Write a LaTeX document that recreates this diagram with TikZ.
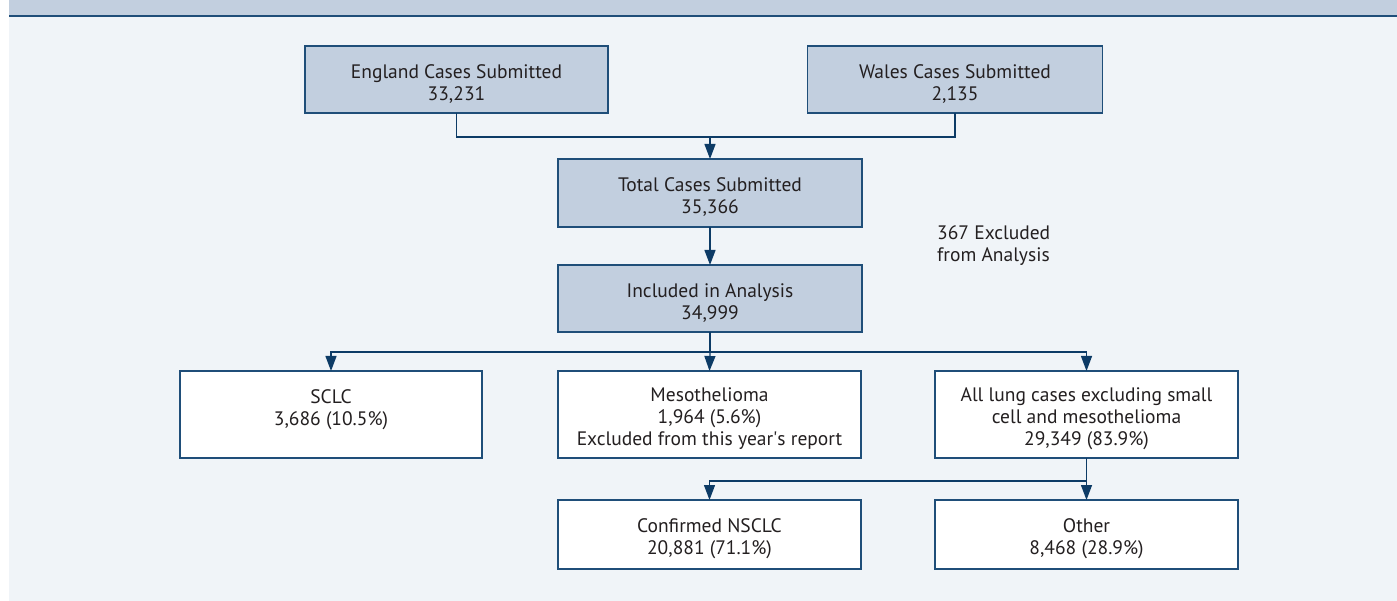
\documentclass[tikz,border=0pt]{standalone}
\usepackage{fontspec}
\setmainfont{PT Sans}
\usetikzlibrary{arrows.meta}
\definecolor{hdr}{HTML}{C2CFDF}
\definecolor{panel}{HTML}{F0F4F8}
\definecolor{edge}{HTML}{1F4E79}
\definecolor{arr}{HTML}{0D3B66}
\definecolor{txt}{HTML}{231F20}
\newcommand{\topstrut}{\rule{0pt}{22.5pt}}
\begin{document}
\begin{tikzpicture}[x=1pt,y=-1pt,
  box/.style={draw=edge, line width=1.3pt, minimum width=303pt, minimum height=67pt,
    inner sep=0pt, outer sep=0pt, align=center, text=txt,
    font=\fontsize{19.5}{22}\selectfont},
  bluebox/.style={box, fill=hdr},
  whitebox/.style={box, fill=white, minimum height=87pt},
  conn/.style={draw=arr, line width=1.3pt},
  arrow/.style={conn, -{Triangle[width=11pt,length=15pt]}}]
\useasboundingbox (0,0) rectangle (1397,601);
\fill[white] (0,0) rectangle (1397,601);
\fill[hdr] (9,0) rectangle (1397,16);
\fill[panel] (9,16) rectangle (1397,601);
\draw[edge, line width=1.5pt] (9,16) -- (1397,16);

\node[bluebox, minimum width=303pt] (eng) at (456.5,79.5) {\topstrut England Cases Submitted\\33,231};
\node[bluebox, minimum width=295pt] (wal) at (955,79.5) {\topstrut Wales Cases Submitted\\2,135};
\node[bluebox, minimum width=304pt, minimum height=68pt] (tot) at (710,193) {\topstrut Total Cases Submitted\\35,366};
\node[bluebox, minimum width=304pt] (inc) at (710,298.5) {\topstrut Included in Analysis\\34,999};
\node[anchor=west, align=left, inner sep=0pt, text=txt, font=\fontsize{19.5}{21.5}\selectfont] (excl) at (937,245.5) {367 Excluded\\from Analysis};

\node[whitebox, minimum width=302pt] (sclc) at (331,414.5) {\topstrut SCLC\\3,686 (10.5\%)\\\mbox{}};
\node[whitebox] (meso) at (709.5,414.5) {\topstrut Mesothelioma\\1,964 (5.6\%)\\Excluded from this year\textquotesingle s report};
\node[whitebox] (lung) at (1086.5,414.5) {\topstrut All lung cases excluding small\\cell and mesothelioma\\29,349 (83.9\%)};
\node[box, fill=white, minimum height=69pt] (nsclc) at (709.5,534.5) {\topstrut Confirmed NSCLC\\20,881 (71.1\%)};
\node[box, fill=white, minimum height=69pt] (other) at (1086.5,534.5) {\topstrut Other\\8,468 (28.9\%)};

\coordinate (j1) at (tot.north |- 0,137);
\draw[conn] (eng.south) |- (j1);
\draw[conn] (wal.south) |- (j1);
\draw[arrow] (j1) -- (tot.north);
\draw[arrow] (tot.south) -- (inc.north);

\coordinate (j2) at (inc.south |- 0,352);
\draw[conn] (inc.south) -- (j2);
\draw[arrow] (j2) -| (sclc.north);
\draw[arrow] (j2) -- (meso.north);
\draw[arrow] (j2) -| (lung.north);

\coordinate (j3) at (lung.south |- 0,481);
\draw[conn] (lung.south) -- (j3);
\draw[arrow] (j3) -| (nsclc.north);
\draw[arrow] (j3) -- (other.north);
\end{tikzpicture}
\end{document}
